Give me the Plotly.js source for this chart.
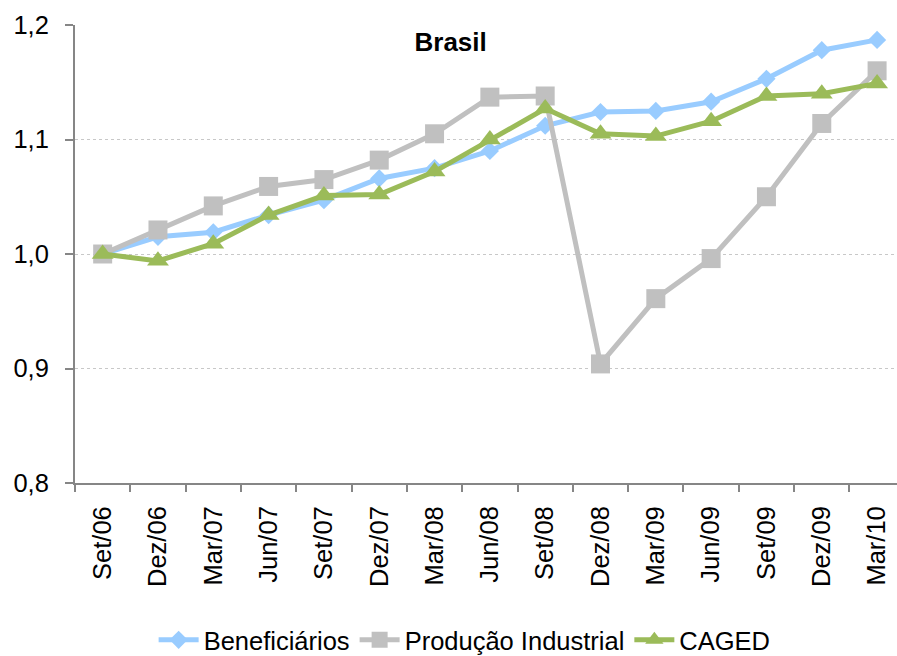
<!DOCTYPE html>
<html>
<head>
<meta charset="utf-8">
<script src="https://cdn.plot.ly/plotly-3.0.1.min.js"></script>
<style>html,body{margin:0;padding:0;background:#fff;overflow:hidden}</style>
</head>
<body>
<div id="chart" style="width:897px;height:656px"></div>
<script>
const categories = ["Set/06","Dez/06","Mar/07","Jun/07","Set/07","Dez/07","Mar/08","Jun/08","Set/08","Dez/08","Mar/09","Jun/09","Set/09","Dez/09","Mar/10"];
const beneficiarios = [1.000,1.015,1.019,1.034,1.047,1.066,1.075,1.090,1.112,1.124,1.125,1.133,1.153,1.178,1.187];
const producaoIndustrial = [1.000,1.021,1.042,1.059,1.065,1.082,1.105,1.137,1.138,0.904,0.961,0.996,1.050,1.114,1.160];
const caged = [1.000,0.994,1.009,1.034,1.051,1.052,1.072,1.100,1.127,1.105,1.103,1.116,1.138,1.140,1.149];
const yTicks = [0.8,0.9,1.0,1.1,1.2];
const yTickLabels = ["0,8","0,9","1,0","1,1","1,2"];

const FONT = "Liberation Sans, Arial, sans-serif";
const TS = 25.5;
const traces = [
  {name:"Beneficiários", x:categories, y:beneficiarios, type:"scatter", mode:"lines+markers",
   line:{color:"#99CCFF", width:5}, marker:{symbol:"diamond", size:14, color:"#99CCFF"}},
  {name:"Produção Industrial", x:categories, y:producaoIndustrial, type:"scatter", mode:"lines+markers",
   line:{color:"#C0C0C0", width:5}, marker:{symbol:"square", size:19, color:"#C0C0C0"}},
  {name:"CAGED", x:categories, y:caged, type:"scatter", mode:"lines+markers",
   line:{color:"#9BBB59", width:5}, marker:{symbol:"triangle-up", size:19, color:"#9BBB59"}}
];
const layout = {
  width:897, height:656,
  margin:{l:75, r:0, t:25, b:173, autoexpand:false},
  paper_bgcolor:"#fff", plot_bgcolor:"#fff",
  font:{family:FONT, size:TS, color:"#000"},
  title:{text:"<b>Brasil</b>", font:{family:FONT, size:26, color:"#000"},
         xref:"paper", yref:"paper", x:0.457, xanchor:"center", y:0.963, yanchor:"middle"},
  showlegend:true,
  legend:{orientation:"h", xref:"paper", yref:"container", x:0.474, xanchor:"center", y:0.024, yanchor:"middle",
          font:{family:FONT, size:TS, color:"#000"}, itemwidth:40, tracegroupgap:0},
  xaxis:{type:"category", range:[-0.5,14.36], tickangle:-90, tickson:"boundaries", automargin:false,
         ticks:"outside", ticklen:7, tickcolor:"#868686", tickwidth:2,
         showline:true, linecolor:"#868686", linewidth:2, showgrid:false, zeroline:false,
         ticklabelstandoff:11, tickfont:{family:FONT, size:TS, color:"#000"}},
  yaxis:{range:[0.8,1.2], tickvals:yTicks, ticktext:yTickLabels, automargin:false,
         ticks:"outside", ticklen:8, tickcolor:"#868686", tickwidth:2,
         showline:true, linecolor:"#868686", linewidth:2,
         showgrid:true, gridcolor:"#C8C8C8", griddash:"dot", gridwidth:1, zeroline:false,
         ticklabelstandoff:11, tickfont:{family:FONT, size:TS, color:"#000"}}
};
Plotly.newPlot("chart", traces, layout, {displayModeBar:false, staticPlot:true});
</script>
</body>
</html>
